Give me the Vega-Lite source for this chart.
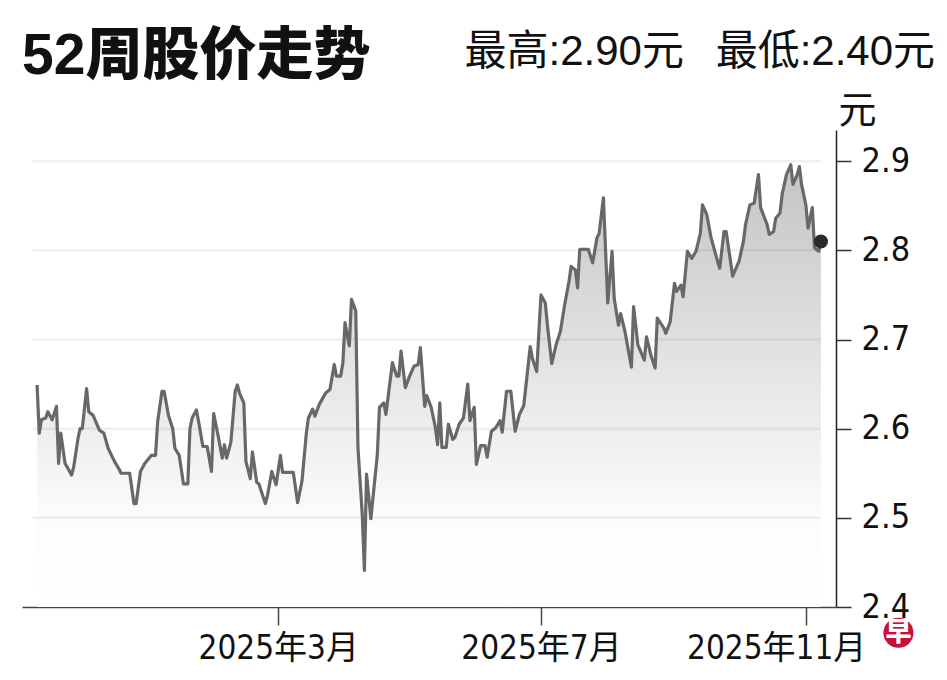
{
  "$schema": "https://vega.github.io/schema/vega-lite/v6.json",
  "width": 814,
  "height": 477,
  "autosize": {"type": "none"},
  "padding": {"left": 22, "top": 130, "right": 111, "bottom": 73},
  "background": "#ffffff",
  "title": {
    "text": "52周股价走势",
    "anchor": "start",
    "frame": "group",
    "font": "Liberation Sans, Noto Sans CJK SC",
    "fontSize": 57,
    "fontWeight": 900,
    "color": "#111111",
    "offset": -55
  },
  "datasets": {
    "price": [
      {"date": "2024-11-09", "price": 2.649},
      {"date": "2024-11-10", "price": 2.595},
      {"date": "2024-11-11", "price": 2.610},
      {"date": "2024-11-13", "price": 2.612},
      {"date": "2024-11-14", "price": 2.619},
      {"date": "2024-11-16", "price": 2.610},
      {"date": "2024-11-18", "price": 2.625},
      {"date": "2024-11-19", "price": 2.561},
      {"date": "2024-11-20", "price": 2.595},
      {"date": "2024-11-22", "price": 2.561},
      {"date": "2024-11-23", "price": 2.557},
      {"date": "2024-11-25", "price": 2.548},
      {"date": "2024-11-26", "price": 2.557},
      {"date": "2024-11-28", "price": 2.589},
      {"date": "2024-11-29", "price": 2.600},
      {"date": "2024-11-30", "price": 2.600},
      {"date": "2024-12-02", "price": 2.645},
      {"date": "2024-12-03", "price": 2.619},
      {"date": "2024-12-05", "price": 2.615},
      {"date": "2024-12-08", "price": 2.598},
      {"date": "2024-12-10", "price": 2.595},
      {"date": "2024-12-12", "price": 2.578},
      {"date": "2024-12-15", "price": 2.563},
      {"date": "2024-12-17", "price": 2.555},
      {"date": "2024-12-18", "price": 2.550},
      {"date": "2024-12-22", "price": 2.550},
      {"date": "2024-12-24", "price": 2.516},
      {"date": "2024-12-25", "price": 2.516},
      {"date": "2024-12-27", "price": 2.552},
      {"date": "2024-12-29", "price": 2.561},
      {"date": "2025-01-01", "price": 2.570},
      {"date": "2025-01-03", "price": 2.570},
      {"date": "2025-01-04", "price": 2.608},
      {"date": "2025-01-06", "price": 2.642},
      {"date": "2025-01-07", "price": 2.642},
      {"date": "2025-01-09", "price": 2.615},
      {"date": "2025-01-11", "price": 2.600},
      {"date": "2025-01-12", "price": 2.578},
      {"date": "2025-01-14", "price": 2.570},
      {"date": "2025-01-16", "price": 2.538},
      {"date": "2025-01-18", "price": 2.538},
      {"date": "2025-01-19", "price": 2.600},
      {"date": "2025-01-20", "price": 2.612},
      {"date": "2025-01-22", "price": 2.621},
      {"date": "2025-01-23", "price": 2.608},
      {"date": "2025-01-25", "price": 2.580},
      {"date": "2025-01-27", "price": 2.580},
      {"date": "2025-01-29", "price": 2.552},
      {"date": "2025-01-30", "price": 2.617},
      {"date": "2025-02-01", "price": 2.593},
      {"date": "2025-02-03", "price": 2.567},
      {"date": "2025-02-04", "price": 2.582},
      {"date": "2025-02-05", "price": 2.567},
      {"date": "2025-02-07", "price": 2.585},
      {"date": "2025-02-09", "price": 2.642},
      {"date": "2025-02-10", "price": 2.649},
      {"date": "2025-02-11", "price": 2.640},
      {"date": "2025-02-13", "price": 2.629},
      {"date": "2025-02-14", "price": 2.563},
      {"date": "2025-02-16", "price": 2.544},
      {"date": "2025-02-17", "price": 2.574},
      {"date": "2025-02-19", "price": 2.540},
      {"date": "2025-02-20", "price": 2.538},
      {"date": "2025-02-23", "price": 2.516},
      {"date": "2025-02-24", "price": 2.525},
      {"date": "2025-02-26", "price": 2.552},
      {"date": "2025-02-28", "price": 2.537},
      {"date": "2025-03-02", "price": 2.570},
      {"date": "2025-03-03", "price": 2.551},
      {"date": "2025-03-08", "price": 2.551},
      {"date": "2025-03-10", "price": 2.517},
      {"date": "2025-03-12", "price": 2.541},
      {"date": "2025-03-14", "price": 2.594},
      {"date": "2025-03-15", "price": 2.612},
      {"date": "2025-03-17", "price": 2.622},
      {"date": "2025-03-18", "price": 2.614},
      {"date": "2025-03-20", "price": 2.627},
      {"date": "2025-03-23", "price": 2.640},
      {"date": "2025-03-25", "price": 2.644},
      {"date": "2025-03-27", "price": 2.672},
      {"date": "2025-03-28", "price": 2.659},
      {"date": "2025-03-30", "price": 2.659},
      {"date": "2025-03-31", "price": 2.674},
      {"date": "2025-04-01", "price": 2.719},
      {"date": "2025-04-03", "price": 2.693},
      {"date": "2025-04-04", "price": 2.745},
      {"date": "2025-04-06", "price": 2.732},
      {"date": "2025-04-07", "price": 2.579},
      {"date": "2025-04-09", "price": 2.504},
      {"date": "2025-04-10", "price": 2.441},
      {"date": "2025-04-11", "price": 2.549},
      {"date": "2025-04-13", "price": 2.499},
      {"date": "2025-04-16", "price": 2.571},
      {"date": "2025-04-17", "price": 2.624},
      {"date": "2025-04-19", "price": 2.629},
      {"date": "2025-04-20", "price": 2.616},
      {"date": "2025-04-23", "price": 2.674},
      {"date": "2025-04-25", "price": 2.659},
      {"date": "2025-04-26", "price": 2.659},
      {"date": "2025-04-27", "price": 2.687},
      {"date": "2025-04-29", "price": 2.646},
      {"date": "2025-05-01", "price": 2.659},
      {"date": "2025-05-03", "price": 2.670},
      {"date": "2025-05-05", "price": 2.672},
      {"date": "2025-05-06", "price": 2.691},
      {"date": "2025-05-08", "price": 2.625},
      {"date": "2025-05-09", "price": 2.637},
      {"date": "2025-05-11", "price": 2.624},
      {"date": "2025-05-13", "price": 2.601},
      {"date": "2025-05-14", "price": 2.582},
      {"date": "2025-05-15", "price": 2.629},
      {"date": "2025-05-16", "price": 2.579},
      {"date": "2025-05-18", "price": 2.579},
      {"date": "2025-05-19", "price": 2.605},
      {"date": "2025-05-21", "price": 2.588},
      {"date": "2025-05-22", "price": 2.590},
      {"date": "2025-05-24", "price": 2.605},
      {"date": "2025-05-26", "price": 2.612},
      {"date": "2025-05-28", "price": 2.650},
      {"date": "2025-05-29", "price": 2.609},
      {"date": "2025-05-31", "price": 2.624},
      {"date": "2025-06-01", "price": 2.560},
      {"date": "2025-06-03", "price": 2.581},
      {"date": "2025-06-05", "price": 2.581},
      {"date": "2025-06-06", "price": 2.568},
      {"date": "2025-06-08", "price": 2.597},
      {"date": "2025-06-10", "price": 2.601},
      {"date": "2025-06-12", "price": 2.609},
      {"date": "2025-06-13", "price": 2.596},
      {"date": "2025-06-15", "price": 2.642},
      {"date": "2025-06-17", "price": 2.642},
      {"date": "2025-06-19", "price": 2.597},
      {"date": "2025-06-21", "price": 2.616},
      {"date": "2025-06-23", "price": 2.626},
      {"date": "2025-06-26", "price": 2.692},
      {"date": "2025-06-27", "price": 2.679},
      {"date": "2025-06-29", "price": 2.664},
      {"date": "2025-07-01", "price": 2.750},
      {"date": "2025-07-03", "price": 2.741},
      {"date": "2025-07-04", "price": 2.716},
      {"date": "2025-07-06", "price": 2.673},
      {"date": "2025-07-08", "price": 2.694},
      {"date": "2025-07-10", "price": 2.709},
      {"date": "2025-07-12", "price": 2.739},
      {"date": "2025-07-14", "price": 2.765},
      {"date": "2025-07-15", "price": 2.782},
      {"date": "2025-07-17", "price": 2.778},
      {"date": "2025-07-18", "price": 2.758},
      {"date": "2025-07-19", "price": 2.801},
      {"date": "2025-07-23", "price": 2.801},
      {"date": "2025-07-25", "price": 2.786},
      {"date": "2025-07-27", "price": 2.814},
      {"date": "2025-07-28", "price": 2.819},
      {"date": "2025-07-30", "price": 2.859},
      {"date": "2025-08-01", "price": 2.741},
      {"date": "2025-08-03", "price": 2.799},
      {"date": "2025-08-04", "price": 2.746},
      {"date": "2025-08-06", "price": 2.716},
      {"date": "2025-08-07", "price": 2.729},
      {"date": "2025-08-09", "price": 2.709},
      {"date": "2025-08-12", "price": 2.669},
      {"date": "2025-08-13", "price": 2.737},
      {"date": "2025-08-15", "price": 2.694},
      {"date": "2025-08-18", "price": 2.677},
      {"date": "2025-08-19", "price": 2.703},
      {"date": "2025-08-21", "price": 2.683},
      {"date": "2025-08-23", "price": 2.668},
      {"date": "2025-08-24", "price": 2.724},
      {"date": "2025-08-27", "price": 2.713},
      {"date": "2025-08-28", "price": 2.707},
      {"date": "2025-08-30", "price": 2.720},
      {"date": "2025-09-01", "price": 2.763},
      {"date": "2025-09-02", "price": 2.754},
      {"date": "2025-09-04", "price": 2.761},
      {"date": "2025-09-05", "price": 2.748},
      {"date": "2025-09-07", "price": 2.799},
      {"date": "2025-09-09", "price": 2.791},
      {"date": "2025-09-11", "price": 2.799},
      {"date": "2025-09-13", "price": 2.819},
      {"date": "2025-09-14", "price": 2.851},
      {"date": "2025-09-16", "price": 2.840},
      {"date": "2025-09-18", "price": 2.814},
      {"date": "2025-09-21", "price": 2.788},
      {"date": "2025-09-22", "price": 2.780},
      {"date": "2025-09-24", "price": 2.821},
      {"date": "2025-09-25", "price": 2.821},
      {"date": "2025-09-27", "price": 2.788},
      {"date": "2025-09-28", "price": 2.771},
      {"date": "2025-10-01", "price": 2.788},
      {"date": "2025-10-03", "price": 2.810},
      {"date": "2025-10-04", "price": 2.829},
      {"date": "2025-10-06", "price": 2.851},
      {"date": "2025-10-08", "price": 2.853},
      {"date": "2025-10-10", "price": 2.885},
      {"date": "2025-10-11", "price": 2.848},
      {"date": "2025-10-14", "price": 2.829},
      {"date": "2025-10-15", "price": 2.818},
      {"date": "2025-10-17", "price": 2.821},
      {"date": "2025-10-18", "price": 2.836},
      {"date": "2025-10-20", "price": 2.842},
      {"date": "2025-10-21", "price": 2.863},
      {"date": "2025-10-23", "price": 2.885},
      {"date": "2025-10-25", "price": 2.896},
      {"date": "2025-10-26", "price": 2.874},
      {"date": "2025-10-28", "price": 2.885},
      {"date": "2025-10-29", "price": 2.894},
      {"date": "2025-10-30", "price": 2.874},
      {"date": "2025-11-01", "price": 2.851},
      {"date": "2025-11-02", "price": 2.825},
      {"date": "2025-11-04", "price": 2.848},
      {"date": "2025-11-05", "price": 2.803},
      {"date": "2025-11-07", "price": 2.799},
      {"date": "2025-11-08", "price": 2.810}
    ]
  },
  "data": {"name": "price"},
  "layer": [
    {
      "mark": {
        "type": "area",
        "color": {
          "gradient": "linear",
          "x1": 0, "y1": 0, "x2": 0, "y2": 1,
          "stops": [
            {"offset": 0, "color": "#c4c4c4"},
            {"offset": 0.8, "color": "#fcfcfc"},
            {"offset": 1, "color": "#ffffff"}
          ]
        }
      },
      "encoding": {
        "x": {
          "field": "date",
          "type": "temporal",
          "scale": {
            "type": "utc",
            "domain": [
              {"year": 2024, "month": 11, "date": 2, "utc": true},
              {"year": 2025, "month": 11, "date": 15, "utc": true}
            ]
          },
          "axis": {
            "title": null,
            "grid": false,
            "values": [
              {"year": 2025, "month": 3, "date": 1, "utc": true},
              {"year": 2025, "month": 7, "date": 1, "utc": true},
              {"year": 2025, "month": 11, "date": 1, "utc": true}
            ],
            "labelExpr": "utcFormat(datum.value, '%Y') + '年' + (utcmonth(datum.value) + 1) + '月'",
            "labelFont": "Liberation Sans Narrow, DejaVu Sans Condensed, Noto Sans CJK SC",
            "labelFontSize": 33,
            "labelColor": "#111111",
            "labelPadding": 7,
            "labelLimit": 400,
            "labelFlush": 40,
            "labelFlushOffset": 60,
            "labelOverlap": false,
            "tickSize": 18,
            "tickWidth": 1.5,
            "tickColor": "#444444",
            "domainColor": "#444444",
            "domainWidth": 1.5
          }
        },
        "y": {
          "field": "price",
          "type": "quantitative",
          "scale": {"domain": [2.4, 2.935], "zero": false, "nice": false},
          "axis": {
            "orient": "right",
            "title": "元",
            "titleAngle": 0,
            "titleAlign": "left",
            "titleBaseline": "alphabetic",
            "titleX": 2,
            "titleY": -8,
            "titleFont": "Liberation Sans, Noto Sans CJK SC",
            "titleFontSize": 38,
            "titleFontWeight": "normal",
            "titleColor": "#111111",
            "grid": false,
            "values": [2.4, 2.5, 2.6, 2.7, 2.8, 2.9],
            "format": ".1f",
            "labelFont": "Liberation Sans Narrow, DejaVu Sans Condensed, Noto Sans CJK SC",
            "labelFontSize": 34,
            "labelColor": "#111111",
            "labelPadding": 10,
            "labelFlush": false,
            "labelOverlap": false,
            "tickSize": 15,
            "tickWidth": 1.5,
            "tickColor": "#333333",
            "domainColor": "#222222",
            "domainWidth": 1.5
          }
        },
        "y2": {"datum": 2.4}
      }
    },
    {
      "data": {"values": [{"g": 2.5}, {"g": 2.6}, {"g": 2.7}, {"g": 2.8}, {"g": 2.9}]},
      "mark": {"type": "rule", "color": "#000000", "opacity": 0.06, "strokeWidth": 2.5},
      "encoding": {
        "x": {"datum": {"year": 2024, "month": 11, "date": 7, "utc": true}, "type": "temporal"},
        "x2": {"datum": {"year": 2025, "month": 11, "date": 8, "utc": true}},
        "y": {"field": "g", "type": "quantitative"}
      }
    },
    {
      "mark": {"type": "line", "color": "#686868", "strokeWidth": 3.2, "strokeJoin": "round"},
      "encoding": {
        "x": {"field": "date", "type": "temporal"},
        "y": {"field": "price", "type": "quantitative"}
      }
    },
    {
      "transform": [{"aggregate": [{"op": "argmax", "field": "date", "as": "last"}]}],
      "mark": {"type": "circle", "color": "#2a2a2a", "opacity": 1, "size": 200},
      "encoding": {
        "x": {"field": "last.date", "type": "temporal"},
        "y": {"field": "last.price", "type": "quantitative"}
      }
    },
    {
      "data": {"values": [{"label": "最高:2.90元\u00a0\u00a0\u2009最低:2.40元"}]},
      "mark": {
        "type": "text",
        "align": "right",
        "baseline": "alphabetic",
        "font": "Liberation Sans, Noto Sans CJK SC",
        "fontSize": 42,
        "color": "#111111"
      },
      "encoding": {
        "x": {"datum": {"year": 2025, "month": 12, "date": 31, "utc": true}, "type": "temporal"},
        "y": {"datum": 3.008, "type": "quantitative"},
        "text": {"field": "label"}
      }
    },
    {
      "data": {"values": [{"logo": "早"}]},
      "mark": {"type": "circle", "color": "#c8103c", "opacity": 1, "size": 900},
      "encoding": {
        "x": {"datum": {"year": 2025, "month": 12, "date": 14, "utc": true}, "type": "temporal"},
        "y": {"datum": 2.371, "type": "quantitative"}
      }
    },
    {
      "data": {"values": [{"logo": "早"}]},
      "mark": {
        "type": "text",
        "align": "center",
        "baseline": "middle",
        "font": "Noto Sans CJK SC",
        "fontSize": 26,
        "fontWeight": 900,
        "color": "#ffffff"
      },
      "encoding": {
        "x": {"datum": {"year": 2025, "month": 12, "date": 14, "utc": true}, "type": "temporal"},
        "y": {"datum": 2.371, "type": "quantitative"},
        "text": {"field": "logo"}
      }
    }
  ],
  "config": {
    "view": {"stroke": null}
  }
}
